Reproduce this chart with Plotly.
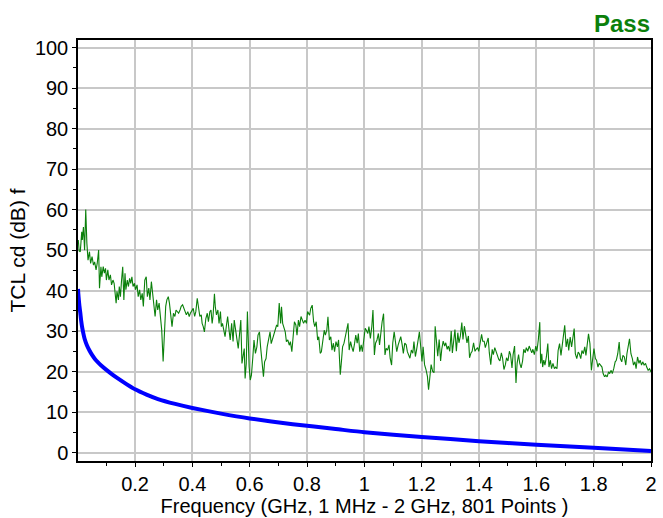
import plotly.graph_objects as go

# Measured TCL (dB) versus frequency (GHz)
meas_freq = [
    0.002, 0.005, 0.009, 0.014, 0.016, 0.020, 0.024, 0.028, 0.032, 0.036, 0.041, 0.045, 0.050, 0.055, 0.059,
    0.064, 0.068, 0.073, 0.076, 0.081, 0.084, 0.089, 0.093, 0.097, 0.100, 0.105, 0.109, 0.114, 0.118, 0.123,
    0.127, 0.131, 0.134, 0.137, 0.142, 0.145, 0.149, 0.153, 0.157, 0.161, 0.165, 0.168, 0.173, 0.177, 0.181,
    0.185, 0.189, 0.193, 0.198, 0.202, 0.207, 0.211, 0.216, 0.220, 0.225, 0.229, 0.234, 0.239, 0.243, 0.248,
    0.252, 0.257, 0.261, 0.266, 0.270, 0.275, 0.279, 0.284, 0.289, 0.293, 0.298, 0.302, 0.307, 0.311, 0.316,
    0.320, 0.325, 0.329, 0.334, 0.339, 0.343, 0.348, 0.352, 0.357, 0.361, 0.366, 0.370, 0.375, 0.379, 0.384,
    0.389, 0.393, 0.398,
    0.403, 0.408, 0.412, 0.417, 0.422, 0.426, 0.431, 0.434, 0.438, 0.442, 0.447, 0.452, 0.456, 0.461, 0.465,
    0.469, 0.472, 0.477, 0.480, 0.484, 0.489, 0.493, 0.498, 0.501, 0.505, 0.509, 0.514, 0.519, 0.523, 0.528,
    0.532, 0.537, 0.542, 0.546, 0.551, 0.555, 0.560, 0.565, 0.569, 0.573, 0.576, 0.581, 0.584, 0.588, 0.592,
    0.595, 0.598, 0.602, 0.606, 0.611, 0.615, 0.620, 0.625, 0.629, 0.634, 0.638, 0.643, 0.648, 0.652, 0.657,
    0.661, 0.666, 0.671, 0.675, 0.680, 0.685, 0.689, 0.694, 0.698, 0.703, 0.708, 0.711, 0.715, 0.719, 0.724,
    0.728, 0.733, 0.738, 0.742, 0.747, 0.751, 0.756, 0.761, 0.765, 0.770, 0.774, 0.779, 0.784, 0.788, 0.793,
    0.798, 0.802,
    0.809, 0.813, 0.818, 0.823, 0.827, 0.832, 0.837, 0.841, 0.846, 0.850, 0.855, 0.860, 0.864, 0.869, 0.873,
    0.878, 0.883, 0.887, 0.892, 0.896, 0.901, 0.906, 0.910, 0.916, 0.920, 0.924, 0.929, 0.933, 0.938, 0.943,
    0.947, 0.952, 0.956, 0.961, 0.966, 0.970, 0.975, 0.979, 0.984, 0.989, 0.993, 0.998, 1.003, 1.007, 1.012,
    1.016, 1.021, 1.026, 1.030, 1.035, 1.039, 1.044, 1.049, 1.053, 1.058, 1.062, 1.067, 1.072, 1.076, 1.081,
    1.086, 1.090, 1.095, 1.099, 1.104, 1.109, 1.113, 1.118, 1.122, 1.127, 1.132, 1.136, 1.141, 1.146, 1.150,
    1.155, 1.159, 1.164, 1.169, 1.173, 1.178, 1.182, 1.187, 1.192, 1.196, 1.201, 1.205,
    1.210, 1.215, 1.220, 1.224, 1.229, 1.233, 1.238, 1.243, 1.247, 1.252, 1.256, 1.261, 1.266, 1.270, 1.275,
    1.280, 1.284, 1.289, 1.293, 1.298, 1.303, 1.307, 1.312, 1.316, 1.321, 1.326, 1.330, 1.335, 1.340, 1.344,
    1.349, 1.353, 1.358, 1.363, 1.367, 1.372, 1.376, 1.381, 1.386, 1.390, 1.395, 1.399, 1.404, 1.409, 1.413,
    1.418, 1.422, 1.427, 1.432, 1.436, 1.441, 1.446, 1.450, 1.455, 1.459, 1.464, 1.469, 1.473, 1.478, 1.482,
    1.487, 1.492, 1.496, 1.501, 1.506, 1.510, 1.515, 1.519, 1.524, 1.529, 1.533, 1.538, 1.542, 1.547, 1.552,
    1.556, 1.561, 1.565, 1.570, 1.575, 1.579, 1.584, 1.588, 1.593, 1.598, 1.602, 1.607,
    1.612, 1.615, 1.619, 1.622, 1.626, 1.630, 1.635, 1.640, 1.644, 1.649, 1.653, 1.658, 1.663, 1.667, 1.672,
    1.676, 1.681, 1.686, 1.690, 1.695, 1.699, 1.704, 1.709, 1.713, 1.718, 1.723, 1.727, 1.732, 1.736, 1.741,
    1.746, 1.750, 1.755, 1.759, 1.764, 1.769, 1.773, 1.778, 1.782, 1.787, 1.792, 1.796, 1.801, 1.806, 1.810,
    1.815, 1.819, 1.824, 1.829, 1.833, 1.838, 1.842, 1.847, 1.852, 1.856, 1.861, 1.865, 1.870, 1.875, 1.879,
    1.884, 1.889, 1.893, 1.898, 1.902, 1.907, 1.912, 1.916, 1.921, 1.925, 1.930, 1.935, 1.939, 1.944, 1.948,
    1.953, 1.958, 1.962, 1.967, 1.971, 1.976, 1.981, 1.985, 1.990, 1.995, 2.000,
]
meas_tcl = [
    52.5, 49.8, 49.6, 54.5, 52.5, 55.7, 50.0, 60.0, 51.6, 47.5, 49.6, 46.7, 48.4, 46.3, 47.1,
    45.1, 46.7, 50.0, 40.6, 45.9, 43.4, 45.9, 44.3, 45.5, 42.6, 45.1, 42.6, 43.9, 41.4, 42.6,
    41.8, 38.9, 36.9, 39.8, 37.7, 41.0, 38.5, 42.6, 45.9, 37.7, 44.3, 40.2, 42.6, 41.0, 43.0,
    41.8, 43.4, 41.0, 41.8, 40.2, 41.4, 38.5, 40.2, 37.7, 39.3, 36.1, 42.6, 43.4, 38.5, 40.6,
    37.7, 42.2, 39.3, 36.1, 33.6, 37.7, 35.2, 36.9, 32.8, 30.3, 22.5, 28.0, 36.1, 37.7, 38.5,
    36.9, 34.4, 31.1, 34.4, 33.6, 35.2, 34.8, 34.4, 35.2, 36.1, 36.5, 35.7, 35.2, 34.0, 34.8,
    33.6, 34.4, 35.2,
    35.6, 33.6, 34.8, 38.1, 34.8, 33.6, 34.0, 31.9, 31.1, 29.8, 33.1, 34.4, 32.3, 34.8, 35.2,
    31.9, 33.6, 39.2, 36.0, 34.0, 35.2, 31.9, 34.8, 31.1, 31.9, 30.2, 28.6, 31.5, 33.6, 30.2,
    27.8, 31.9, 27.4, 32.7, 29.4, 28.2, 25.7, 29.4, 32.7, 22.0, 24.0, 25.7, 18.3, 22.0, 34.8,
    26.1, 21.2, 17.9, 19.1, 23.6, 27.8, 24.5, 26.1, 29.0, 29.8, 26.1, 22.4, 18.7, 22.4, 23.2,
    26.1, 28.2, 29.8, 26.9, 28.2, 29.0, 30.7, 31.5, 31.1, 36.9, 31.9, 36.0, 31.9, 31.1, 29.8,
    27.4, 27.8, 26.5, 27.4, 24.9, 29.0, 32.3, 31.5, 29.0, 32.7, 31.1, 33.6, 32.3, 31.9, 32.7,
    31.9, 34.8,
    33.9, 35.6, 36.4, 32.3, 31.1, 32.3, 27.8, 28.6, 24.5, 24.9, 27.4, 30.2, 29.0, 30.2, 33.5,
    27.8, 28.6, 25.3, 27.0, 24.9, 27.4, 26.1, 27.8, 19.2, 22.5, 26.1, 27.0, 28.6, 30.7, 31.9,
    25.3, 27.4, 26.1, 24.9, 27.0, 29.0, 27.0, 29.4, 24.9, 26.6, 24.9, 28.6, 30.7, 30.2, 29.4,
    31.1, 28.2, 31.1, 35.2, 24.1, 27.0, 27.8, 29.4, 26.6, 30.2, 32.3, 34.3, 24.1, 25.7, 25.3,
    26.6, 23.3, 21.6, 27.0, 29.8, 26.1, 24.9, 26.6, 27.8, 28.6, 26.6, 24.5, 27.0, 26.6, 24.9,
    24.1, 23.3, 25.3, 24.5, 27.4, 23.7, 25.3, 27.8, 29.8, 26.6, 22.5, 26.1,
    21.7, 20.5, 18.8, 15.5, 19.3, 21.7, 20.1, 19.7, 31.2, 27.9, 23.8, 27.9, 22.6, 25.5, 27.5,
    26.3, 27.1, 25.5, 26.3, 25.0, 30.0, 24.6, 27.1, 30.4, 25.0, 29.6, 27.1, 28.8, 32.1, 27.9,
    31.2, 28.8, 27.1, 28.8, 23.4, 24.6, 25.0, 27.1, 25.0, 25.5, 25.9, 25.0, 27.1, 29.2, 27.5,
    27.5, 25.9, 27.1, 28.3, 24.6, 21.7, 25.5, 24.2, 25.9, 25.0, 23.8, 23.0, 22.6, 24.6, 23.4,
    20.5, 21.7, 23.4, 22.6, 25.0, 24.2, 20.9, 24.2, 26.3, 17.2, 22.1, 24.2, 22.1, 20.9, 22.6,
    25.5, 24.6, 25.9, 25.0, 26.3, 25.5, 24.6, 25.5, 24.2, 26.3, 25.0, 27.9,
    32.2, 22.0, 24.4, 21.1, 22.8, 21.6, 23.6, 26.9, 21.1, 22.8, 20.7, 22.0, 20.7, 21.1, 20.7,
    25.2, 26.9, 24.0, 26.5, 28.9, 31.4, 26.1, 28.1, 25.2, 28.5, 26.1, 27.7, 30.6, 24.4, 23.2,
    24.8, 24.4, 23.2, 25.2, 24.4, 26.1, 24.0, 27.3, 29.3, 26.9, 20.3, 22.8, 25.7, 23.2, 22.8,
    21.1, 22.0, 21.6, 21.1, 19.5, 18.7, 19.1, 18.7, 19.9, 19.5, 20.3, 19.5, 20.7, 22.4, 22.8,
    24.4, 27.3, 23.2, 22.4, 24.0, 23.6, 21.6, 24.4, 26.5, 28.1, 24.4, 23.2, 21.6, 22.4, 20.7,
    23.6, 22.0, 22.8, 21.6, 22.4, 21.6, 22.0, 21.1, 20.3, 20.7, 19.9,
]

# Limit line (dB) versus frequency (GHz)
limit_freq = [0.001, 0.002, 0.004, 0.006, 0.009, 0.012, 0.016, 0.020, 0.024, 0.032, 0.041, 0.050,
              0.060, 0.070, 0.080, 0.100, 0.120, 0.140, 0.170, 0.200, 0.240, 0.280, 0.340, 0.400,
              0.500, 0.600, 0.750, 0.900, 1.000, 1.200, 1.400, 1.600, 1.800, 2.000]
limit_tcl = [40.4, 39.3, 37.6, 36.2, 34.5, 32.6, 30.7, 29.3, 28.1, 26.5, 25.2, 24.1,
             23.1, 22.3, 21.6, 20.4, 19.3, 18.3, 16.9, 15.6, 14.3, 13.2, 12.0, 11.0,
             9.6, 8.4, 7.0, 5.8, 5.0, 3.85, 2.8, 1.9, 1.2, 0.4]

x_ticks = [0.2, 0.4, 0.6, 0.8, 1.0, 1.2, 1.4, 1.6, 1.8, 2.0]
x_tick_text = ["0.2", "0.4", "0.6", "0.8", "1", "1.2", "1.4", "1.6", "1.8", "2"]

FONT = "Liberation Sans, Arial, sans-serif"
GRID = "#c8c8c8"

fig = go.Figure()
fig.add_trace(go.Scatter(
    x=meas_freq, y=meas_tcl, mode="lines",
    line=dict(color="#0b800b", width=1.1),
    showlegend=False, hoverinfo="x+y",
))
fig.add_trace(go.Scatter(
    x=limit_freq, y=limit_tcl, mode="lines",
    line=dict(color="#0000ff", width=4, shape="spline", smoothing=0.5),
    showlegend=False, hoverinfo="x+y",
))

fig.update_layout(
    width=663, height=518,
    margin=dict(l=78, r=6, t=40, b=57),
    paper_bgcolor="white", plot_bgcolor="white",
    font=dict(family=FONT, size=20, color="black"),
    annotations=[dict(
        text="<b>Pass</b>", xref="paper", yref="paper", x=1.0, y=1.0,
        xanchor="right", yanchor="bottom", yshift=1, xshift=1, showarrow=False,
        font=dict(family=FONT, size=24, color="#0b800b"),
    )],
)

fig.update_xaxes(
    range=[0.001, 2.0],
    tickvals=x_ticks, ticktext=x_tick_text,
    tickfont=dict(family=FONT, size=20),
    showgrid=True, gridcolor=GRID, gridwidth=2,
    showline=True, linecolor="black", linewidth=1.5, mirror=True,
    ticks="outside", ticklen=4, tickcolor="black",
    minor=dict(tickvals=[0.1, 0.3, 0.5, 0.7, 0.9, 1.1, 1.3, 1.5, 1.7, 1.9],
               ticks="outside", ticklen=3, tickcolor="black", showgrid=False),
    zeroline=False,
    title=dict(text="Frequency (GHz, 1 MHz - 2 GHz, 801 Points )", standoff=2,
               font=dict(family=FONT, size=20)),
)
fig.update_yaxes(
    range=[-2.1, 101.9],
    tick0=0, dtick=10,
    tickfont=dict(family=FONT, size=20),
    showgrid=True, gridcolor=GRID, gridwidth=2,
    showline=True, linecolor="black", linewidth=1.5, mirror=True,
    ticks="outside", ticklen=4, tickcolor="black",
    minor=dict(dtick=5, ticks="outside", ticklen=3, tickcolor="black", showgrid=False),
    zeroline=False,
    title=dict(text="TCL cd (dB) f", standoff=4, font=dict(family=FONT, size=21)),
)

fig.write_html("out.html")
